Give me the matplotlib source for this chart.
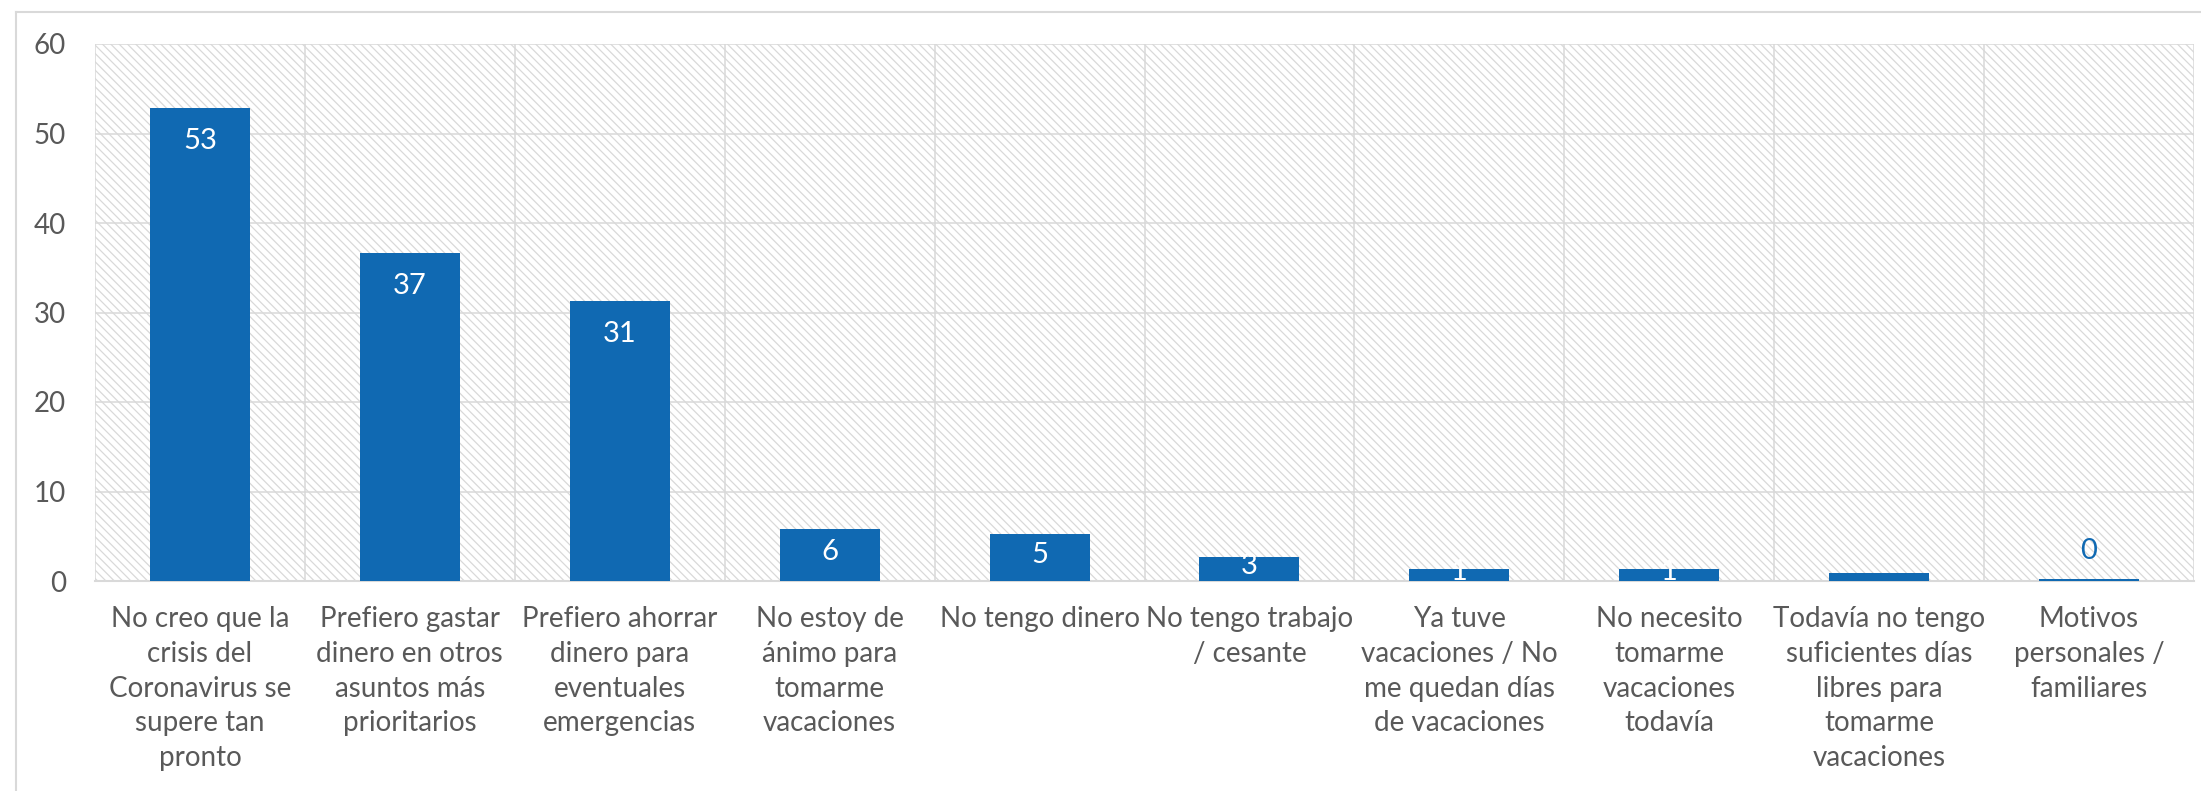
import matplotlib
matplotlib.use("Agg")
import matplotlib.pyplot as plt
from matplotlib.lines import Line2D
import numpy as np

plt.rcParams['font.family'] = ['Lato', 'DejaVu Sans']
plt.rcParams['hatch.linewidth'] = 0.9
plt.rcParams['hatch.color'] = '#D9D9D9'

# data
categories = [
    "No creo que la\ncrisis del\nCoronavirus se\nsupere tan\npronto",
    "Prefiero gastar\ndinero en otros\nasuntos más\nprioritarios",
    "Prefiero ahorrar\ndinero para\neventuales\nemergencias",
    "No estoy de\nánimo para\ntomarme\nvacaciones",
    "No tengo dinero",
    "No tengo trabajo\n/ cesante",
    "Ya tuve\nvacaciones / No\nme quedan días\nde vacaciones",
    "No necesito\ntomarme\nvacaciones\ntodavía",
    "Todavía no tengo\nsuficientes días\nlibres para\ntomarme\nvacaciones",
    "Motivos\npersonales /\nfamiliares",
]
values = [52.9, 36.7, 31.3, 5.8, 5.2, 2.7, 1.3, 1.3, 0.9, 0.2]
value_labels = ["53", "37", "31", "6", "5", "3", "1", "1", "", "0"]
yticks = [0, 10, 20, 30, 40, 50, 60]

BLUE = '#1069B2'
GRID = '#D9D9D9'
TEXT = '#595959'

W, H = 2201, 791
fig = plt.figure(figsize=(W / 100, H / 100), dpi=100)
ax = fig.add_axes([95 / W, 1 - 581 / H, (2194 - 95) / W, (581 - 44) / H])

# hatched plot area
ax.patch.set_facecolor('white')
ax.patch.set_hatch('\\\\\\\\')
ax.patch.set_edgecolor(GRID)
ax.patch.set_linewidth(0)

x = np.arange(len(categories))
ax.bar(x, values, width=0.476, color=BLUE, zorder=3)

ax.set_xlim(-0.5, len(categories) - 0.5)
ax.set_ylim(0, 60)
ax.set_yticks(yticks)
ax.set_yticklabels([str(t) for t in yticks])
ax.set_xticks(x)
ax.set_xticklabels(categories, linespacing=1.42)
ax.set_xticks(np.arange(-0.5, len(categories)), minor=True)

ax.set_axisbelow(True)
ax.grid(axis='y', which='major', color=GRID, linewidth=1.1)
ax.grid(axis='x', which='minor', color=GRID, linewidth=1.1)
ax.tick_params(axis='both', which='both', length=0)
ax.tick_params(axis='y', labelsize=20, labelcolor=TEXT, pad=21)
ax.tick_params(axis='x', labelsize=20, labelcolor=TEXT, pad=18)

for s in ['top', 'right', 'left']:
    ax.spines[s].set_visible(False)
ax.spines['bottom'].set_color(GRID)
ax.spines['bottom'].set_linewidth(1.5)

# data labels (inside end, white; the ones that don't fit go above)
px_per_unit = (581 - 44) / 60.0
for xi, v, lab in zip(x, values, value_labels):
    if not lab:
        continue
    bar_px = v * px_per_unit
    if bar_px < 5:
        ax.annotate(lab, (xi, v), xytext=(0, 28 * 0.72), textcoords='offset points',
                    ha='center', va='center', color=BLUE, fontsize=21, zorder=4)
    else:
        off = min(33, bar_px / 2 - 3)
        ax.annotate(lab, (xi, v), xytext=(0, -off * 0.72), textcoords='offset points',
                    ha='center', va='center', color='white', fontsize=21, zorder=4)

# chart area border (left and top)
fig.add_artist(Line2D([16 / W, 16 / W], [0, 1 - 12 / H], transform=fig.transFigure,
                      color=GRID, linewidth=1.5))
fig.add_artist(Line2D([16 / W, 1], [1 - 12 / H, 1 - 12 / H], transform=fig.transFigure,
                      color=GRID, linewidth=1.5))

fig.savefig('out.png', dpi=100)
